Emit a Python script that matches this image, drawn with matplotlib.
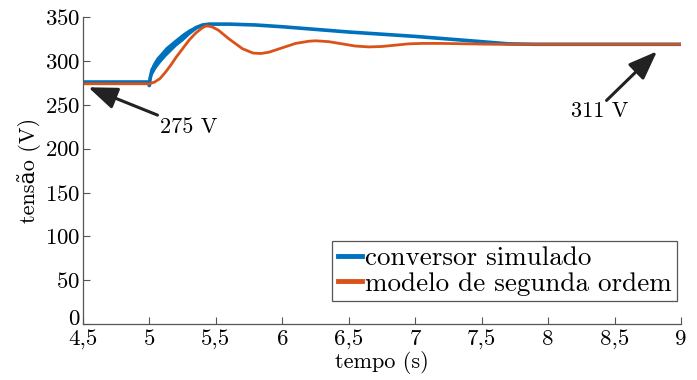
import matplotlib
matplotlib.use("Agg")
import matplotlib.pyplot as plt
import matplotlib.transforms as mtransforms

plt.rcParams['font.family'] = ['cmr10', 'DejaVu Serif']
plt.rcParams['mathtext.fontset'] = 'cm'
plt.rcParams['axes.formatter.use_mathtext'] = True

# data
t_sim = [4.5, 4.99, 5.0, 5.005, 5.02, 5.05, 5.08, 5.12, 5.16, 5.2, 5.25, 5.3, 5.35,
         5.4, 5.45, 5.5, 5.6, 5.8, 6.0, 6.5, 7.0, 7.5, 7.7, 7.9, 8.5, 9.0]
v_sim = [276, 276, 272, 280, 290, 298, 303, 310, 316, 321, 327, 333, 338,
         341, 342, 342, 342, 341, 339, 333, 328, 322, 319.5, 319, 319, 319]

# ripple band of the simulated converter during the rise
t_band = [5.0, 5.02, 5.05, 5.08, 5.12, 5.16, 5.2, 5.25, 5.3, 5.35, 5.4, 5.45]
v_band_lo = [272, 284, 292, 298, 305, 311, 317, 323, 330, 336, 340, 341]
v_band_hi = [280, 296, 304, 309, 316, 321, 326, 332, 337, 340, 342, 343]

t_mod = [4.5, 5.0, 5.04, 5.08, 5.12, 5.16, 5.2, 5.25, 5.3, 5.35, 5.4, 5.43, 5.47, 5.52,
         5.6, 5.7, 5.78, 5.84, 5.9, 6.0, 6.1, 6.2, 6.25, 6.35, 6.45, 6.55, 6.65, 6.75,
         6.85, 6.95, 7.05, 7.2, 7.4, 7.6, 8.0, 9.0]
v_mod = [274, 274, 276, 280, 287, 295, 304, 314, 324, 332, 338, 340, 339, 335,
         325, 314, 309, 308.5, 310, 315, 320, 322.5, 323, 322, 319.5, 317, 316, 316.5,
         318, 319.5, 320, 320, 319.5, 319, 319, 319]

x_ticks = [4.5, 5, 5.5, 6, 6.5, 7, 7.5, 8, 8.5, 9]
x_labels = ['4,5', '5', '5,5', '6', '6,5', '7', '7,5', '8', '8,5', '9']
y_ticks = [0, 50, 100, 150, 200, 250, 300, 350]

labels = ['conversor simulado', 'modelo de segunda ordem']
colors = ['#0072BD', '#D95319']

fig = plt.figure(figsize=(6.97, 3.80), dpi=100)
ax = fig.add_axes([0.119, 0.147, 0.858, 0.808])

ax.fill_between(t_band, v_band_lo, v_band_hi, color=colors[0], lw=0)
ax.plot(t_sim, v_sim, color=colors[0], lw=2.6, label=labels[0], solid_joinstyle='round')
ax.plot(t_mod, v_mod, color=colors[1], lw=2.0, label=labels[1], solid_joinstyle='round')

ax.set_xlim(4.5, 9)
ax.set_ylim(0, 350)
ax.set_xticks(x_ticks)
ax.set_xticklabels(x_labels)
ax.set_yticks(y_ticks)
for s in ['top', 'right']:
    ax.spines[s].set_visible(False)
for s in ['left', 'bottom']:
    ax.spines[s].set_color('#555555')
    ax.spines[s].set_linewidth(0.9)
ax.tick_params(direction='in', length=5, width=0.8, color='#555555', labelsize=16.5, pad=2)
ax.tick_params(axis='x', pad=4)

# nudge the "0" label slightly up, as in the reference
zero_lbl = ax.get_yticklabels()[0]
zero_lbl.set_transform(zero_lbl.get_transform() +
                       mtransforms.ScaledTranslation(0, 7 / 100, fig.dpi_scale_trans))

ax.set_xlabel('tempo (s)', fontsize=16, labelpad=1)
ax.set_ylabel('tensão (V)', fontsize=16, labelpad=3)

arrow = dict(arrowstyle='-|>,head_length=1.1,head_width=0.42', color='#222222', lw=2.2,
             shrinkA=0, shrinkB=0, mutation_scale=16)
ax.annotate('275 V', xy=(4.54, 270), xytext=(5.08, 224), fontsize=16,
            ha='left', va='center', arrowprops=arrow)
ax.annotate('', xy=(8.82, 311), xytext=(8.44, 255), arrowprops=arrow)
ax.text(8.39, 243, '311 V', fontsize=16, ha='center', va='center')

leg = ax.legend(loc='lower right', bbox_to_anchor=(0.993, 0.075), fontsize=19.5, frameon=True,
                fancybox=False, edgecolor='#555555', framealpha=1,
                handlelength=0.9, handletextpad=0.1, borderpad=0.2, labelspacing=0.05,
                borderaxespad=0)
leg.get_frame().set_linewidth(0.9)
for line in leg.get_lines():
    line.set_linewidth(3.5)

fig.savefig('out.png', dpi=100)
